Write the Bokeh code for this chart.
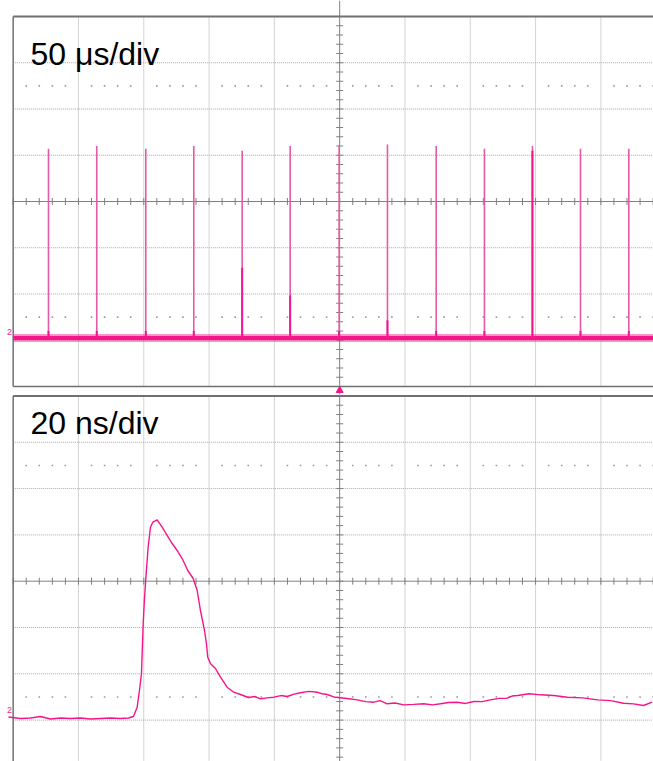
import numpy as np
from bokeh.plotting import figure
from bokeh.layouts import column
from bokeh.models import Range1d
from bokeh.embed import file_html
from bokeh.resources import INLINE
from bokeh.core.properties import value

# ---------------- data (graticule divisions) ----------------
# top panel: 50 us/div, pulse train
spike_t = [0.541, 1.280, 2.031, 2.766, 3.507, 4.242, 4.992, 5.732, 6.478, 7.217, 7.952, 8.688, 9.428]
spike_top = [1.14, 1.20, 1.14, 1.20, 1.10, 1.20, 1.21, 1.23, 1.20, 1.14, 1.20, 1.14, 1.14]
spike_bold_top = [-2.80, -2.80, -2.80, -2.80, -1.43, -2.03, -2.80, -2.57, -2.80, -2.80, 1.10, -2.80, -2.80]
top_baseline = -2.95

# bottom panel: 20 ns/div, single pulse
pulse_t = [-0.072, 0.112, 0.265, 0.418, 0.571, 0.724, 0.877, 1.031, 1.184, 1.337, 1.490, 1.643,
           1.766, 1.842, 1.899, 1.934, 1.965, 1.991, 2.011, 2.037, 2.067, 2.103, 2.138, 2.205,
           2.282, 2.358, 2.435, 2.511, 2.588, 2.674, 2.757, 2.818, 2.868, 2.930, 2.960, 2.980,
           3.021, 3.098, 3.175, 3.277, 3.378, 3.481, 3.603, 3.700, 3.787, 3.890, 3.991, 4.100,
           4.196, 4.300, 4.400, 4.530, 4.655, 4.730, 4.809, 4.910, 5.012, 5.140, 5.268, 5.400,
           5.522, 5.620, 5.727, 5.850, 5.982, 6.130, 6.288, 6.420, 6.544, 6.670, 6.799, 6.930,
           7.054, 7.180, 7.309, 7.440, 7.565, 7.640, 7.723, 7.900, 8.075, 8.280, 8.489, 8.720,
           8.948, 9.150, 9.346, 9.500, 9.652, 9.786]
pulse_v = [-2.933, -2.965, -2.955, -2.922, -2.976, -2.955, -2.965, -2.955, -2.976, -2.965, -2.955, -2.965,
           -2.955, -2.922, -2.721, -2.361, -1.994, -0.914, -0.374, 0.166, 0.734, 1.166, 1.274, 1.326,
           1.166, 0.987, 0.814, 0.663, 0.490, 0.231, 0.058, -0.201, -0.633, -1.065, -1.346, -1.641,
           -1.778, -1.886, -2.073, -2.289, -2.397, -2.447, -2.512, -2.490, -2.540, -2.520, -2.505, -2.470,
           -2.490, -2.440, -2.410, -2.380, -2.397, -2.430, -2.447, -2.500, -2.518, -2.540, -2.562, -2.600,
           -2.613, -2.580, -2.648, -2.630, -2.670, -2.660, -2.648, -2.670, -2.648, -2.620, -2.613, -2.640,
           -2.598, -2.600, -2.562, -2.530, -2.527, -2.480, -2.469, -2.430, -2.454, -2.470, -2.505, -2.520,
           -2.562, -2.580, -2.635, -2.650, -2.685, -2.613]

labels = ["50 \u03bcs/div", "20 ns/div"]

# ---------------- styling constants ----------------
PINK = "#f5158a"
GRID = "#a8a8a8"
AXIS = "#808080"
BORDER = "#707070"
X0, X1 = -0.194, 9.806
W = 653


def make_panel(height, y0, y1, panel_bottom, gap_bottom):
    p = figure(width=W, height=height, x_range=Range1d(X0, X1), y_range=Range1d(y0, y1),
               output_backend="svg", toolbar_location=None, min_border=0,
               x_axis_location=None, y_axis_location=None)
    p.grid.visible = False
    p.outline_line_color = None
    p.background_fill_color = "white"
    p.border_fill_color = "white"

    vx = [1, 2, 3, 4, 6, 7, 8, 9]
    p.segment(x0=vx, y0=[panel_bottom] * len(vx), x1=vx, y1=[4] * len(vx),
              line_color=GRID, line_width=1, line_dash="1 1")
    hy = [-3, -2, -1, 1, 2, 3]
    p.segment(x0=[0] * len(hy), y0=hy, x1=[10] * len(hy), y1=hy,
              line_color=GRID, line_width=1, line_dash="1 1")

    # dotted rows
    dx = [k * 0.2 for k in range(1, 50) if k % 5 != 0]
    for yy in (2.5, -2.5):
        p.scatter(x=dx, y=[yy] * len(dx), marker="square", size=1.6,
                  fill_color="#9a9a9a", line_color=None)

    # centre axes
    p.segment(x0=[5], y0=[gap_bottom], x1=[5], y1=[y1], line_color=AXIS, line_width=1)
    p.segment(x0=[0], y0=[0], x1=[10], y1=[0], line_color=AXIS, line_width=1)
    ty = [round(-4 + 0.2 * k, 3) for k in range(41)]
    p.scatter(x=[5] * len(ty), y=ty, marker="dash", size=7, line_color=AXIS, line_width=1)
    tx = [round(0.2 * k, 3) for k in range(51)]
    p.scatter(x=tx, y=[0] * len(tx), marker="dash", angle=np.pi / 2, size=7,
              line_color=AXIS, line_width=1)

    # borders
    p.segment(x0=[0], y0=[4], x1=[10], y1=[4], line_color=BORDER, line_width=1.8)
    p.segment(x0=[0], y0=[panel_bottom], x1=[0], y1=[4], line_color=BORDER, line_width=1.5)
    return p


# top panel
p1 = make_panel(394, -4.173, 4.346, -4, -4.173)
p1.segment(x0=[0], y0=[-4], x1=[10], y1=[-4], line_color=BORDER, line_width=1.5)
p1.line(x=[X0 + 0.2, 10], y=[top_baseline, top_baseline], line_color=PINK, line_width=8, line_alpha=0.45)
p1.line(x=[X0 + 0.2, 10], y=[top_baseline, top_baseline], line_color=PINK, line_width=4)
p1.segment(x0=spike_t, y0=[top_baseline] * len(spike_t), x1=spike_t, y1=spike_top,
           line_color="#e35aa8", line_width=1.6)
p1.segment(x0=spike_t, y0=[top_baseline] * len(spike_t), x1=spike_t, y1=spike_bold_top,
           line_color=PINK, line_width=2)
p1.text(x=[0.265], y=[3.18], text=[labels[0]], text_font=value("Liberation Sans"),
        text_font_size="32px", text_color="black", text_baseline="alphabetic")
p1.text(x=[-0.057], y=[-2.83], text=["2"], text_font=value("Liberation Sans"),
        text_font_size="9px", text_color=PINK, text_align="center", text_baseline="middle")
p1.scatter(x=[5], y=[-4.086], marker="triangle", size=7, fill_color=PINK, line_color=PINK)

# bottom panel
p2 = make_panel(367, -3.894, 4.032, -4, -4)
p2.line(x=pulse_t, y=pulse_v, line_color=PINK, line_width=1.4)
p2.text(x=[0.265], y=[3.41], text=[labels[1]], text_font=value("Liberation Sans"),
        text_font_size="32px", text_color="black", text_baseline="alphabetic")
p2.text(x=[-0.057], y=[-2.79], text=["2"], text_font=value("Liberation Sans"),
        text_font_size="9px", text_color=PINK, text_align="center", text_baseline="middle")

layout = column(p1, p2, spacing=0)
open("out.html", "w").write(file_html(layout, INLINE))
